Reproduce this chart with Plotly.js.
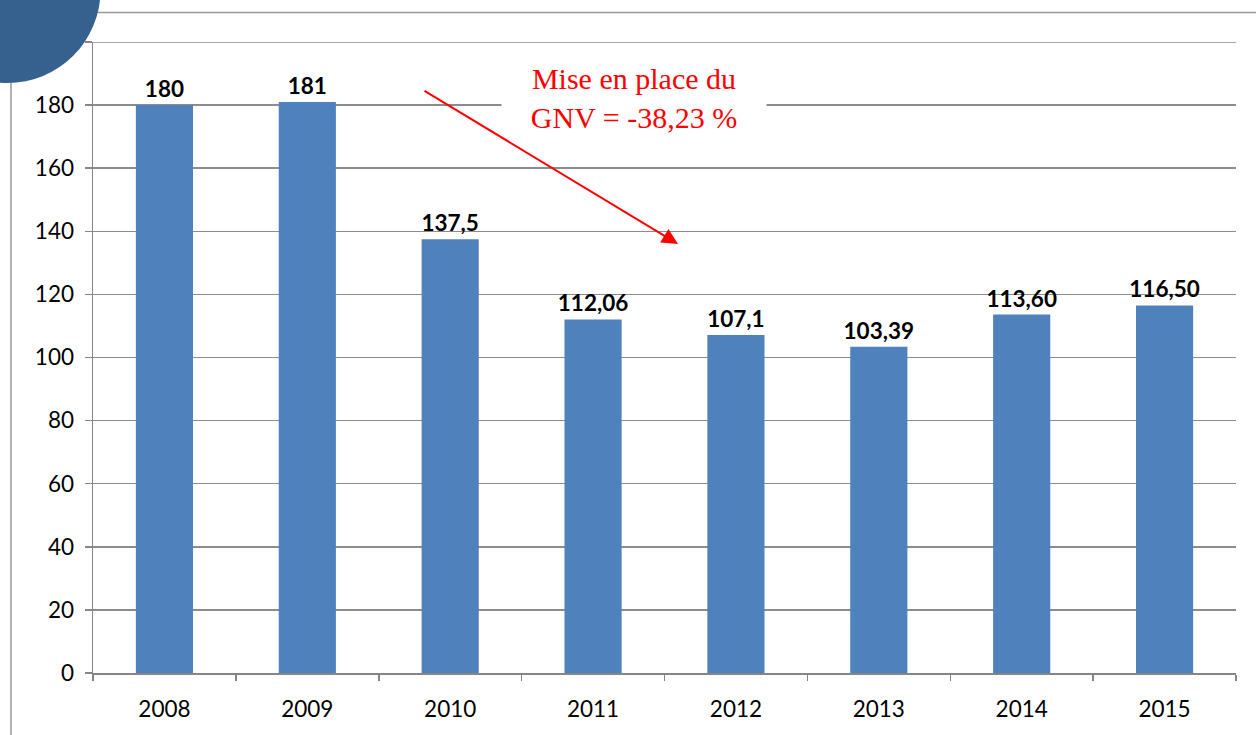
<!DOCTYPE html>
<html>
<head>
<meta charset="utf-8">
<script src="https://cdn.plot.ly/plotly-3.0.1.min.js"></script>
<style>html,body{margin:0;padding:0;background:#fff;}#chart{width:1256px;height:735px;}</style>
</head>
<body>
<div id="chart"></div>
<script>
const years = ["2008","2009","2010","2011","2012","2013","2014","2015"];
const values = [180, 181, 137.5, 112.06, 107.1, 103.39, 113.60, 116.50];
const valueLabels = ["180","181","137,5","112,06","107,1","103,39","113,60","116,50"];
const yTicks = [0,20,40,60,80,100,120,140,160,180,200];
const yTickText = ["0","20","40","60","80","100","120","140","160","180",""];
const noteText = "Mise en place du<br>GNV = -38,23 %";

const W = 1256, H = 735, L = 93, R = 20, T = 42, B = 62;
const pw = W - L - R, ph = H - T - B;
const px = x => (x - L) / pw;
const py = y => (H - B - y) / ph;

const trace = {
  type: "bar",
  x: years,
  y: values,
  text: valueLabels,
  textposition: "outside",
  constraintext: "none",
  cliponaxis: false,
  textfont: {family: "Lato, 'Liberation Sans', sans-serif", size: 22.5, color: "#000", weight: "bold"},
  marker: {color: "#4F81BD"},
  width: 0.4,
  hoverinfo: "skip"
};

const layout = {
  width: W, height: H,
  margin: {l: L, r: R, t: T, b: B},
  paper_bgcolor: "#fff",
  plot_bgcolor: "#fff",
  showlegend: false,
  xaxis: {
    type: "category",
    showline: true, linecolor: "#868686", linewidth: 1.5,
    ticks: "outside", tickson: "boundaries", ticklen: 6, tickcolor: "#868686", tickwidth: 1.5,
    tickfont: {family: "Lato, 'Liberation Sans', sans-serif", size: 22.5, color: "#000"},
    showgrid: false, zeroline: false,
    ticklabelstandoff: 15
  },
  yaxis: {
    range: [0, 200],
    tickvals: yTicks,
    ticktext: yTickText,
    showline: true, linecolor: "#868686", linewidth: 1.5,
    ticks: "outside", ticklen: 7, tickcolor: "#868686", tickwidth: 1.5,
    tickfont: {family: "Lato, 'Liberation Sans', sans-serif", size: 22.5, color: "#000"},
    showgrid: true, gridcolor: "#8c8c8c", gridwidth: 1.5,
    zeroline: false,
    ticklabelstandoff: 6
  },
  shapes: [
    {type: "line", xref: "paper", yref: "y", x0: 0, x1: 1, y0: 200, y1: 200, line: {color: "#8c8c8c", width: 1.5}, layer: "below"},
    {type: "line", xref: "paper", yref: "paper", x0: px(0), x1: px(W), y0: py(12.5), y1: py(12.5), line: {color: "#999", width: 1.5}, layer: "below"},
    {type: "line", xref: "paper", yref: "paper", x0: px(11), x1: px(11), y0: py(80), y1: py(H), line: {color: "#999", width: 1.5}, layer: "below"},
    {type: "circle", xref: "paper", yref: "paper", x0: px(7.5 - 93), x1: px(7.5 + 93), y0: py(-10 - 93), y1: py(-10 + 93), fillcolor: "#36618F", line: {width: 0}}
  ],
  annotations: [
    {
      xref: "paper", yref: "paper", x: px(634), y: py(98),
      xanchor: "center", yanchor: "middle",
      text: noteText, showarrow: false,
      font: {family: "'Liberation Serif', 'DejaVu Serif', serif", size: 30, color: "#FF0000"},
      bgcolor: "#fff", width: 262, height: 72, align: "center"
    },
    {
      xref: "paper", yref: "paper", x: px(678), y: py(244),
      axref: "pixel", ayref: "pixel", ax: -255, ay: -154,
      text: "", showarrow: true, arrowhead: 2, arrowsize: 1.6, arrowwidth: 2, arrowcolor: "#FF0000"
    }
  ]
};

Plotly.newPlot("chart", [trace], layout, {displayModeBar: false, staticPlot: true});
</script>
</body>
</html>
